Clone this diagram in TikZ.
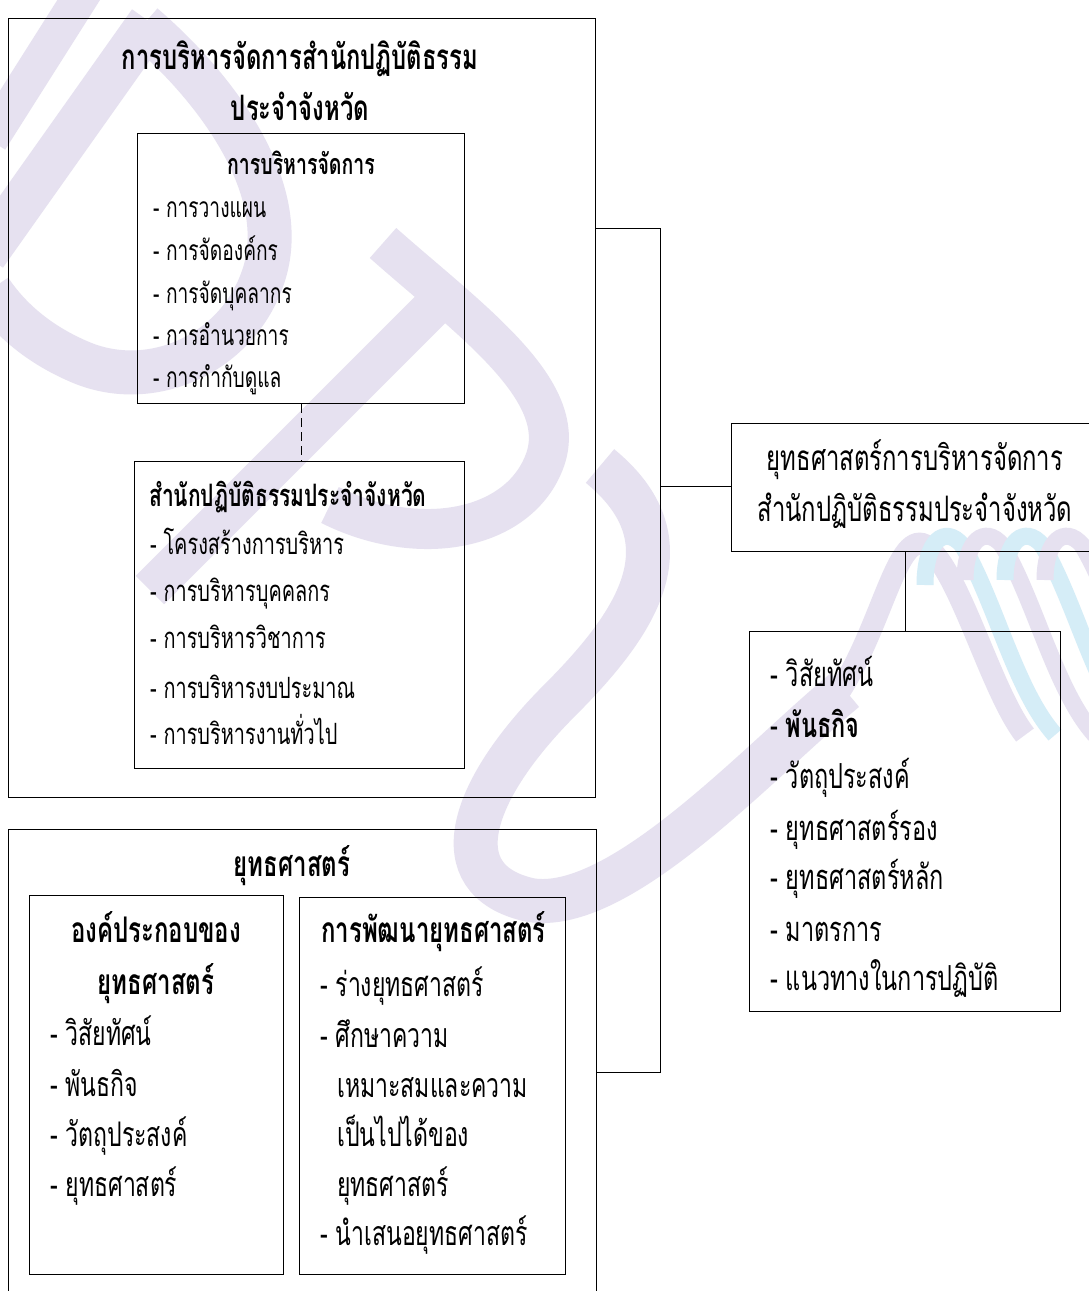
\documentclass[tikz,border=0pt]{standalone}
\usepackage{fontspec}
\newfontfamily\thaif[Script=Thai,FakeStretch=0.68]{Loma}
\definecolor{lav}{RGB}{230,225,240}
\definecolor{cya}{RGB}{213,237,247}
\tikzset{
  box/.style={draw, line width=1.3pt, inner sep=0pt, anchor=north west},
  conn/.style={line width=1pt},
  wm/.style={draw=lav, line width=44pt},
  wmc/.style={draw=cya, line width=17pt},
  wml/.style={draw=lav, line width=17pt},
  tl/.style={inner sep=0pt, anchor=base west},
  tc/.style={inner sep=0pt, anchor=base},
  fA/.style={font=\thaif\bfseries\fontsize{35}{40}\selectfont},
  fBa/.style={font=\thaif\bfseries\fontsize{28.7}{32}\selectfont},
  fBi/.style={font=\thaif\fontsize{28.2}{32}\selectfont},
  fCa/.style={font=\thaif\bfseries\fontsize{30.9}{36}\selectfont},
  fCi/.style={font=\thaif\fontsize{29.3}{36}\selectfont},
  fDa/.style={font=\thaif\bfseries\fontsize{35.3}{40}\selectfont},
  fDi/.style={font=\thaif\fontsize{33.9}{40}\selectfont},
  fE/.style={font=\thaif\fontsize{35.1}{42}\selectfont},
  fF/.style={font=\thaif\fontsize{34.5}{42}\selectfont},
}
\begin{document}
\begin{tikzpicture}[x=1pt,y=-1pt]
\useasboundingbox (0,0) rectangle (1089,1291);
\clip (0,0) rectangle (1089,1291);
\fill[white] (0,0) rectangle (1089,1291);
% watermark
\draw[wm, line width=36pt] (85,-10) -- (-10,140);
\draw[wm] (150,22) -- (-15,255);
\draw[wm] (143,25) .. controls (230,100) and (292,200) .. (262,280) .. controls (235,355) and (150,392) .. (80,362) .. controls (40,345) and (10,320) .. (-10,290);
\draw[wm, line width=40pt] (383,243) .. controls (470,320) and (570,390) .. (545,460) .. controls (520,530) and (420,550) .. (330,505);
\draw[wm, line width=40pt] (452,288) -- (150,590);
\draw[wm] (600,466) .. controls (690,540) and (640,620) .. (560,700) .. controls (470,790) and (440,880) .. (530,900) .. controls (620,915) and (760,760) .. (845,690);
\draw[wml, line width=22pt] (830,705) .. controls (880,640) and (895,530) .. (925,545) .. controls (960,570) and (990,690) .. (1025,735);
\draw[wmc] (925,585) .. controls (925,540) and (945,525) .. (962,545) .. controls (995,600) and (1015,690) .. (1055,735);
\draw[wml] (965,580) .. controls (965,540) and (985,525) .. (1002,545) .. controls (1035,600) and (1055,690) .. (1095,735);
\draw[wmc] (1005,580) .. controls (1005,540) and (1025,525) .. (1042,545) .. controls (1075,600) and (1095,690) .. (1135,735);
\draw[wml] (1045,580) .. controls (1045,540) and (1065,525) .. (1082,545) .. controls (1115,600) and (1135,690) .. (1175,735);

% boxes
\node[box, minimum width=587pt, minimum height=779pt] (A) at (8,18) {};
\node[box, minimum width=327pt, minimum height=270pt] (B1) at (137,133) {};
\node[box, minimum width=330pt, minimum height=307pt] (B2) at (134,461) {};
\node[box, minimum width=588pt, minimum height=520pt] (C) at (8,829) {};
\node[box, minimum width=254pt, minimum height=379pt] (C1) at (29,895) {};
\node[box, minimum width=266pt, minimum height=377pt] (C2) at (299,897) {};
\node[box, minimum width=380pt, minimum height=128pt] (D) at (731,423) {};
\node[box, minimum width=311pt, minimum height=380pt] (E) at (749,631) {};

% connectors
\coordinate (j1) at (660,228);
\coordinate (j2) at (660,486);
\coordinate (j3) at (660,1072);
\draw[conn] (A.east |- j1) -- (j1) -- (j3) -- (C.east |- j3);
\draw[conn] (j2) -- (D.west |- j2);
\draw[conn, dashed, dash pattern=on 9pt off 5pt] (B1.south) -- (B1.south |- B2.north);
\draw[conn] (E.north) -- (E.north |- D.south);

% texts A
\node[tc, fA] (tA1) at (300,69) {การบริหารจัดการสำนักปฏิบัติธรรม};
\node[tc, fA] (tA2) at (300,120) {ประจำจังหวัด};
\node[tc, fBa] (tB0) at (301,174) {การบริหารจัดการ};
\node[tl, fBi] (tB1) at (153,217) {- การวางแผน};
\node[tl, fBi] (tB2) at (153,260) {- การจัดองค์กร};
\node[tl, fBi] (tB3) at (153,303) {- การจัดบุคลากร};
\node[tl, fBi] (tB4) at (153,345) {- การอำนวยการ};
\node[tl, fBi] (tB5) at (153,387) {- การกำกับดูแล};
\node[tl, fCa] (tC0) at (149,506) {สำนักปฏิบัติธรรมประจำจังหวัด};
\node[tl, fCi] (tC1) at (150,554) {- โครงสร้างการบริหาร};
\node[tl, fCi] (tC2) at (150,601) {- การบริหารบุคคลกร};
\node[tl, fCi] (tC3) at (150,648) {- การบริหารวิชาการ};
\node[tl, fCi] (tC4) at (150,698) {- การบริหารงบประมาณ};
\node[tl, fCi] (tC5) at (150,744) {- การบริหารงานทั่วไป};
% texts C
\node[tc, fDa] (tD0) at (292,876) {ยุทธศาสตร์};
\node[tc, fDa] (tD1) at (156,942) {องค์ประกอบของ};
\node[tc, fDa] (tD2) at (156,994) {ยุทธศาสตร์};
\node[tl, fDi] (tD3) at (50,1045) {- วิสัยทัศน์};
\node[tl, fDi] (tD4) at (50,1096) {- พันธกิจ};
\node[tl, fDi] (tD5) at (50,1146) {- วัตถุประสงค์};
\node[tl, fDi] (tD6) at (50,1196) {- ยุทธศาสตร์};
\node[tl, fDa] (tE0) at (321,942) {การพัฒนายุทธศาสตร์};
\node[tl, fDi] (tE1) at (320,996) {- ร่างยุทธศาสตร์};
\node[tl, fDi] (tE2) at (320,1047) {- ศึกษาความ};
\node[tl, fDi] (tE3) at (337,1097) {เหมาะสมและความ};
\node[tl, fDi] (tE4) at (337,1146) {เป็นไปได้ของ};
\node[tl, fDi] (tE5) at (337,1196) {ยุทธศาสตร์};
\node[tl, fDi] (tE6) at (320,1245) {- นำเสนอยุทธศาสตร์};
% texts D, E
\node[tc, fE] (tF1) at (915,470) {ยุทธศาสตร์การบริหารจัดการ};
\node[tc, fE] (tF2) at (915,521) {สำนักปฏิบัติธรรมประจำจังหวัด};
\node[tl, fF] (tG1) at (770,686) {- วิสัยทัศน์};
\node[tl, fF] (tG2) at (770,737) {- \textbf{พันธกิจ}};
\node[tl, fF] (tG3) at (770,788) {- วัตถุประสงค์};
\node[tl, fF] (tG4) at (770,840) {- ยุทธศาสตร์รอง};
\node[tl, fF] (tG5) at (770,889) {- ยุทธศาสตร์หลัก};
\node[tl, fF] (tG6) at (770,941) {- มาตรการ};
\node[tl, fF] (tG7) at (770,990) {- แนวทางในการปฏิบัติ};
\end{tikzpicture}
\end{document}
